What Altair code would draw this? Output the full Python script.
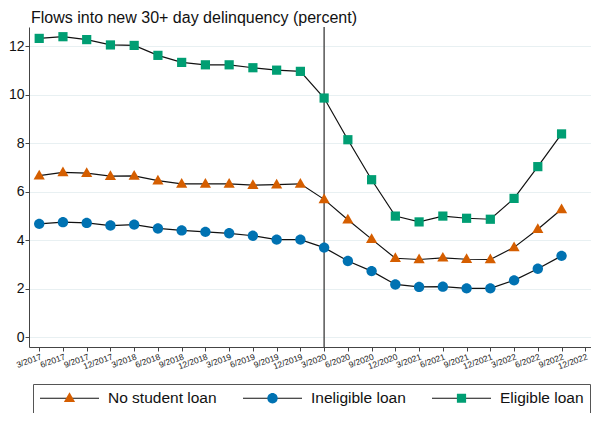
import altair as alt
import pandas as pd

quarters = ["3/2017", "6/2017", "9/2017", "12/2017", "3/2018", "6/2018", "9/2018", "12/2018",
            "3/2019", "6/2019", "9/2019", "12/2019", "3/2020", "6/2020", "9/2020", "12/2020",
            "3/2021", "6/2021", "9/2021", "12/2021", "3/2022", "6/2022", "9/2022", "12/2022"]

series_names = ["No student loan", "Ineligible loan", "Eligible loan"]

no_student_loan = [6.67, 6.80, 6.77, 6.65, 6.66, 6.46, 6.33, 6.33, 6.33, 6.28, 6.30, 6.33,
                   5.69, 4.85, 4.05, 3.26, 3.21, 3.28, 3.22, 3.21, 3.71, 4.46, 5.28]
ineligible_loan = [4.68, 4.75, 4.72, 4.61, 4.65, 4.49, 4.41, 4.35, 4.29, 4.19, 4.03, 4.03,
                   3.70, 3.15, 2.73, 2.18, 2.08, 2.09, 2.02, 2.02, 2.35, 2.83, 3.36]
eligible_loan = [12.33, 12.40, 12.28, 12.06, 12.04, 11.63, 11.34, 11.24, 11.24, 11.12, 11.02, 10.97,
                 9.87, 8.15, 6.50, 5.00, 4.76, 5.00, 4.91, 4.87, 5.73, 7.04, 8.39]

event_quarter = ["3/2020"]

colors = ["#D55E00", "#0072B2", "#009E73"]
marker_paths = [
    "M0,-0.2L0.19,0.13L-0.19,0.13Z",
    "M0.176,0A0.176,0.176,0,1,1,-0.176,0A0.176,0.176,0,1,1,0.176,0Z",
    "M-0.156,-0.156H0.156V0.156H-0.156Z",
]

rows = []
for name, vals in zip(series_names, [no_student_loan, ineligible_loan, eligible_loan]):
    for i, v in enumerate(vals):
        rows.append({"series": name, "q": i, "quarter": quarters[i], "value": v})
df = pd.DataFrame(rows)

event_df = pd.DataFrame({"q": [quarters.index(e) for e in event_quarter]})

FONT = "Liberation Sans"
SYM = 3481
label_js = "[" + ",".join('"%s"' % q for q in quarters) + "]"

x_enc = alt.X("q:Q", scale=alt.Scale(domain=[-0.43, 23.24], nice=False, zero=False),
              axis=alt.Axis(values=list(range(len(quarters))), labelExpr=label_js + "[datum.value]",
                            labelAngle=-20, labelFontSize=8.5, labelAlign="right", labelBaseline="top",
                            labelPadding=1, tickSize=4, grid=False, title=None, labelFont=FONT,
                            labelColor="#222", domainColor="#444", tickColor="#444",
                            labelOverlap=False, labelBound=False, labelFlush=False))
y_enc = alt.Y("value:Q", scale=alt.Scale(domain=[-0.4, 12.8], nice=False, zero=False),
              axis=alt.Axis(values=[0, 2, 4, 6, 8, 10, 12], labelFontSize=14, tickSize=4, labelPadding=1,
                            grid=True, gridColor="#e8f0f2", gridWidth=1, title=None, labelFont=FONT,
                            labelColor="#111", domainColor="#444", tickColor="#444"))

legend_common = dict(orient="none", legendX=4, legendY=357, direction="horizontal", title=None,
                     symbolSize=SYM, labelFontSize=15.5, labelFont=FONT, labelOffset=8,
                     columnPadding=25, padding=6, labelColor="#111", clipHeight=16)

rule = alt.Chart(event_df).mark_rule(color="#555", strokeWidth=1.5).encode(x=x_enc)

lines = alt.Chart(df).mark_line(strokeWidth=1.2).encode(
    x=x_enc, y=y_enc,
    color=alt.Color("series:N", scale=alt.Scale(domain=series_names, range=["#111"] * 3),
                    legend=alt.Legend(symbolType="M-1,0H1", symbolStrokeWidth=1.2,
                                      strokeColor="#555", **legend_common)),
)

points = alt.Chart(df).mark_point(filled=True, size=SYM, opacity=1, strokeWidth=0).encode(
    x=x_enc, y=y_enc,
    fill=alt.Fill("series:N", scale=alt.Scale(domain=series_names, range=colors),
                  legend=alt.Legend(labelOpacity=0, **legend_common)),
    shape=alt.Shape("series:N", scale=alt.Scale(domain=series_names, range=marker_paths),
                    legend=alt.Legend(labelOpacity=0, **legend_common)),
)

chart = alt.layer(rule, lines, points).properties(
    width=562, height=320,
    autosize=alt.AutoSizeParams(type="none"),
    padding={"left": 21, "top": 19, "right": 0, "bottom": 66},
    title=alt.TitleParams("Flows into new 30+ day delinquency (percent)", anchor="start", frame="group",
                          fontSize=16, fontWeight="normal", font=FONT, color="#111", offset=4, dx=2,
                          dy=4),
).configure_view(stroke=None).resolve_scale(color="independent", fill="independent", shape="independent")

chart.save("out.html", embed_options={"renderer": "svg", "actions": False})
